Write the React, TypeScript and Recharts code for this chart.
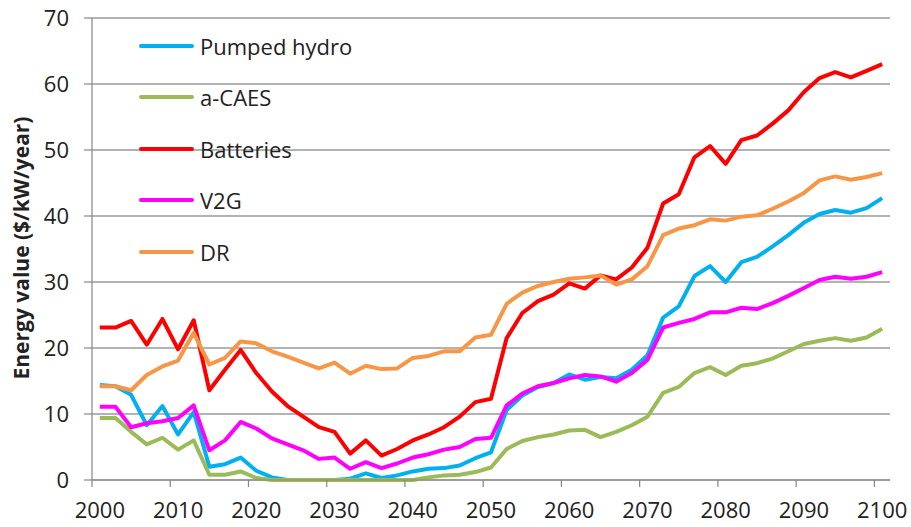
import { LineChart, Line, XAxis, YAxis, CartesianGrid, Legend, Label } from 'recharts'

const years = [
    2000, 2002, 2004, 2006, 2008, 2010, 2012, 2014, 2016, 2018,
    2020, 2022, 2024, 2026, 2028, 2030, 2032, 2034, 2036, 2038,
    2040, 2042, 2044, 2046, 2048, 2050, 2052, 2054, 2056, 2058,
    2060, 2062, 2064, 2066, 2068, 2070, 2072, 2074, 2076, 2078,
    2080, 2082, 2084, 2086, 2088, 2090, 2092, 2094, 2096, 2098, 2100,
]

const pumpedHydro = [
    14.4, 14.2, 12.9, 8.3, 11.2, 6.9, 10.3, 2.0, 2.4, 3.4,
    1.4, 0.4, 0, 0, 0, 0, 0.2, 1.0, 0.3, 0.7,
    1.3, 1.7, 1.8, 2.2, 3.3, 4.2, 10.6, 12.8, 14.1, 14.7,
    16.0, 15.2, 15.6, 15.4, 16.7, 18.9, 24.6, 26.3, 30.9, 32.4,
    30.0, 33.0, 33.8, 35.4, 37.1, 39.0, 40.3, 40.9, 40.5, 41.2, 42.7,
]

const aCaes = [
    9.4, 9.4, 7.3, 5.4, 6.4, 4.6, 6.0, 0.8, 0.8, 1.3,
    0.3, 0, 0, 0, 0, 0, 0, 0, 0, 0,
    0, 0.4, 0.7, 0.8, 1.2, 1.9, 4.7, 5.9, 6.5, 6.9,
    7.5, 7.6, 6.5, 7.3, 8.3, 9.6, 13.2, 14.1, 16.2, 17.1,
    15.9, 17.3, 17.7, 18.4, 19.5, 20.6, 21.1, 21.5, 21.1, 21.6, 22.9,
]

const batteries = [
    23.1, 23.1, 24.1, 20.5, 24.4, 19.8, 24.2, 13.6, 16.7, 19.7,
    16.2, 13.4, 11.2, 9.6, 8.0, 7.3, 4.0, 6.0, 3.7, 4.7,
    6.0, 6.9, 8.0, 9.6, 11.8, 12.3, 21.5, 25.3, 27.1, 28.1,
    29.8, 29.0, 31.0, 30.4, 32.2, 35.2, 41.9, 43.3, 48.9, 50.6,
    47.9, 51.5, 52.2, 54.0, 56.0, 58.8, 60.9, 61.8, 61.0, 62.0, 63.0,
]

const v2g = [
    11.1, 11.1, 8.0, 8.6, 8.9, 9.4, 11.3, 4.5, 6.0, 8.8,
    7.8, 6.3, 5.4, 4.5, 3.2, 3.4, 1.7, 2.7, 1.8, 2.5,
    3.4, 3.9, 4.6, 5.0, 6.2, 6.4, 11.3, 13.1, 14.2, 14.7,
    15.4, 15.9, 15.7, 14.9, 16.2, 18.2, 23.1, 23.8, 24.4, 25.4,
    25.4, 26.1, 25.9, 26.8, 27.9, 29.1, 30.3, 30.8, 30.5, 30.8, 31.5,
]

const dr = [
    14.2, 14.2, 13.6, 15.9, 17.2, 18.1, 22.3, 17.5, 18.5, 21.0,
    20.7, 19.5, 18.7, 17.8, 16.9, 17.8, 16.1, 17.3, 16.8, 16.9,
    18.5, 18.8, 19.5, 19.5, 21.6, 22.0, 26.7, 28.4, 29.4, 30.0,
    30.5, 30.7, 31.0, 29.6, 30.4, 32.4, 37.1, 38.1, 38.6, 39.5,
    39.3, 39.9, 40.1, 41.1, 42.2, 43.5, 45.4, 46.0, 45.5, 45.9, 46.5,
]

const xTicks = [2000, 2010, 2020, 2030, 2040, 2050, 2060, 2070, 2080, 2090, 2100]
const yTicks = [0, 10, 20, 30, 40, 50, 60, 70]

// legend order as in the original (Recharts would sort it otherwise)
const series = [
    { key: 'pumpedHydro', name: 'Pumped hydro', color: '#00b0f0' },
    { key: 'aCaes', name: 'a-CAES', color: '#9bbb59' },
    { key: 'batteries', name: 'Batteries', color: '#ff0000' },
    { key: 'v2g', name: 'V2G', color: '#ff00ff' },
    { key: 'dr', name: 'DR', color: '#f79646' },
]

const data = years.map((year, i) => ({
    year,
    pumpedHydro: pumpedHydro[i],
    aCaes: aCaes[i],
    batteries: batteries[i],
    v2g: v2g[i],
    dr: dr[i],
}))

// excel puts the tick marks between categories, half a category (1 year) left of each label
const YEAR_PX = 798 / 102
const AXIS_GREY = '#868686'

function YearTick(props: any) {
    const { x, y, payload } = props
    return (
        <g>
            <line x1={x - YEAR_PX} x2={x - YEAR_PX} y1={y} y2={y + 7} stroke={AXIS_GREY} strokeWidth={1.2} />
            <text x={x} y={y + 32} textAnchor="middle" dominantBaseline="middle" fontSize={22} fill="#222">
                {payload.value}
            </text>
        </g>
    )
}

function YTitle() {
    return (
        <text
            x={23}
            y={248}
            transform="rotate(-90 23 248)"
            textAnchor="middle"
            dominantBaseline="middle"
            fontSize={21}
            fontWeight="bold"
            fill="#222"
        >
            Energy value ($/kW/year)
        </text>
    )
}

function LegendBox() {
    return (
        <div>
            {series.map((s) => (
                <div key={s.key} style={{ display: 'flex', alignItems: 'center', height: 51.5 }}>
                    <svg width={58} height={8} style={{ marginRight: 4 }}>
                        <line x1={3} x2={54} y1={4} y2={4} stroke={s.color} strokeWidth={4} strokeLinecap="round" />
                    </svg>
                    <span style={{ fontSize: 22, color: '#222', lineHeight: 1 }}>{s.name}</span>
                </div>
            ))}
        </div>
    )
}

export default function App() {
    return (
        <div style={{ position: 'absolute', left: 0, top: 0, width: 911, height: 527, background: '#fff', fontFamily: '"Open Sans", sans-serif' }}>
            <LineChart width={911} height={527} data={data} margin={{ top: 18, right: 21, left: 0, bottom: 0 }}>
                <CartesianGrid vertical={false} stroke="#9a9a9a" strokeWidth={1.5} />
                <XAxis
                    dataKey="year"
                    type="number"
                    domain={[1999, 2101]}
                    ticks={xTicks}
                    tick={<YearTick />}
                    tickLine={false}
                    tickSize={0}
                    tickMargin={0}
                    height={47}
                    stroke={AXIS_GREY}
                    strokeWidth={1.2}
                    interval={0}
                />
                <YAxis
                    domain={[0, 70]}
                    ticks={yTicks}
                    width={92}
                    tickSize={8}
                    tickMargin={15}
                    stroke={AXIS_GREY}
                    strokeWidth={1.2}
                    tick={{ fontSize: 22, fill: '#222' }}
                    interval={0}
                >
                    <Label content={<YTitle />} />
                </YAxis>
                {/* vertical + center/middle keeps recharts from reserving space for the legend */}
                <Legend
                    layout="vertical"
                    verticalAlign="middle"
                    align="center"
                    content={<LegendBox />}
                    wrapperStyle={{ position: 'absolute', left: 138, top: 20, width: 260 }}
                />
                {series.map((s) => (
                    <Line
                        key={s.key}
                        name={s.name}
                        dataKey={s.key}
                        stroke={s.color}
                        strokeWidth={4}
                        dot={false}
                        type="linear"
                        strokeLinejoin="round"
                        isAnimationActive={false}
                    />
                ))}
            </LineChart>
        </div>
    )
}
